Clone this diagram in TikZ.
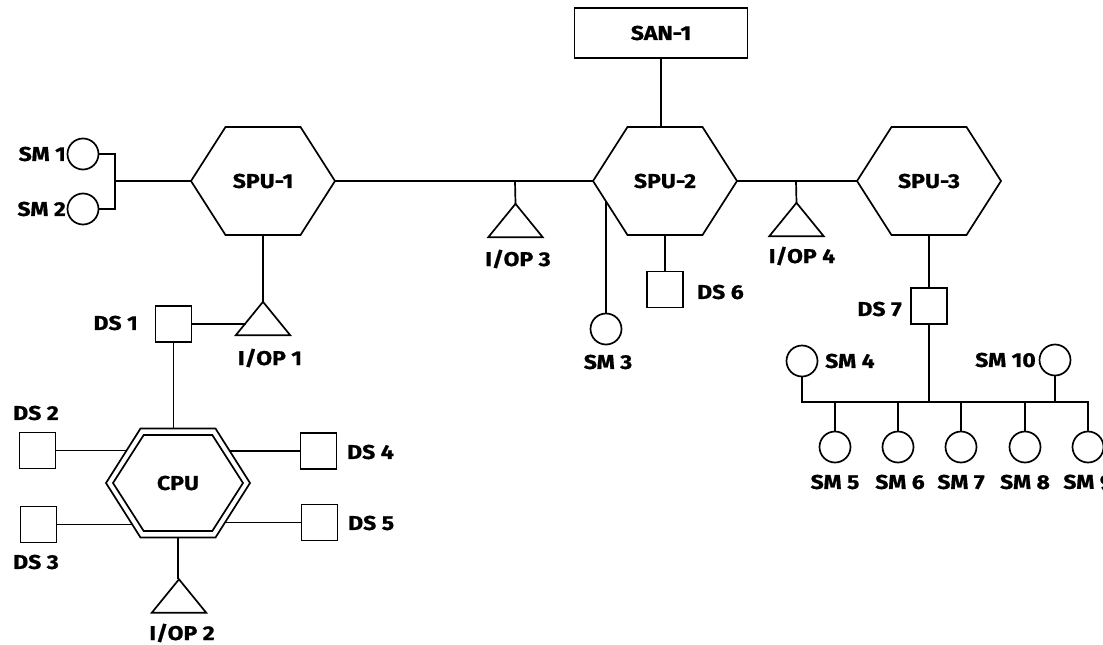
\documentclass[tikz,border=0pt]{standalone}
\usepackage{fontspec}
\setmainfont[FakeStretch=1.15,FakeBold=0.8]{Fira Sans}
\usetikzlibrary{calc}
\newcommand\hexshape[4]{%
  \draw[line width=1.7pt, line join=miter] ($(#1)+(-#2,0)$) -- ($(#1)+(-#4,-#3)$) -- ($(#1)+(#4,-#3)$) -- ($(#1)+(#2,0)$) -- ($(#1)+(#4,#3)$) -- ($(#1)+(-#4,#3)$) -- cycle;}
\newcommand\iotri[1]{%
  \draw[line width=1.7pt, line join=miter] (#1.north) -- (#1.south east) -- (#1.south west) -- cycle;}
\begin{document}
\begin{tikzpicture}[x=1pt,y=-1pt,
  conn/.style={line width=1.7pt},
  hexbox/.style={minimum width=144pt, minimum height=108pt, inner sep=0pt, font=\fontsize{20}{20}\selectfont\bfseries},
  store/.style={draw, line width=1.7pt, minimum width=36pt, minimum height=36pt, inner sep=0pt},
  mem/.style={draw, circle, line width=1.7pt, minimum size=31pt, inner sep=0pt},
  iobox/.style={minimum width=54pt, minimum height=33pt, inner sep=0pt},
  lab/.style={font=\fontsize{20}{20}\selectfont\bfseries, inner sep=0pt},
  sanbox/.style={draw, line width=1.7pt, minimum width=173pt, minimum height=50pt, inner sep=0pt, font=\fontsize{20}{20}\selectfont\bfseries}]
\useasboundingbox (0,0) rectangle (1103,645);
\fill[white] (0,0) rectangle (1103,645);

% processors
\node[hexbox] (spu1) at (263,181) {SPU-1};
\node[hexbox] (spu2) at (665,181) {SPU-2};
\node[hexbox] (spu3) at (929,181) {SPU-3};
\node[hexbox] (cpu) at (178,483) {CPU};
\hexshape{spu1}{72}{54}{37.5}
\hexshape{spu2}{72}{54}{37.5}
\hexshape{spu3}{72}{54}{37.5}
\hexshape{cpu}{72}{54.5}{37.5}
\hexshape{cpu}{65}{48}{34.3}

\node[sanbox] (san) at (661,33) {SAN-1};

% I/O processors
\node[iobox] (iop1) at (263,318.5) {};
\node[iobox] (iop2) at (179,596) {};
\node[iobox] (iop3) at (515.5,220.5) {};
\node[iobox] (iop4) at (796.5,219.5) {};
\iotri{iop1}\iotri{iop2}\iotri{iop3}\iotri{iop4}
\node[lab] (liop1) at (270,358) {I/OP 1};
\node[lab] (liop2) at (182,633) {I/OP 2};
\node[lab] (liop3) at (518,259) {I/OP 3};
\node[lab] (liop4) at (802,256) {I/OP 4};

% disk stores
\node[store] (ds1) at (173.5,324) {};
\node[store] (ds2) at (37.5,450.5) {};
\node[store] (ds3) at (38.5,524.5) {};
\node[store] (ds4) at (318.5,451) {};
\node[store] (ds5) at (319.5,522.5) {};
\node[store] (ds6) at (665,289.5) {};
\node[store] (ds7) at (929,306) {};
\node[lab, anchor=east] (lds1) at (138,323) {DS 1};
\node[lab] (lds2) at (36,413) {DS 2};
\node[lab] (lds3) at (36,562) {DS 3};
\node[lab, anchor=west] (lds4) at (347,452) {DS 4};
\node[lab, anchor=west] (lds5) at (348,523) {DS 5};
\node[lab, anchor=west] (lds6) at (697,292) {DS 6};
\node[lab, anchor=east] (lds7) at (902,309) {DS 7};

% memories
\node[mem] (sm1) at (83,154) {};
\node[mem] (sm2) at (83,209) {};
\node[mem] (sm3) at (606,329) {};
\node[mem] (sm4) at (802,361) {};
\node[mem] (sm10) at (1055,360) {};
\node[mem] (sm5) at (835,447) {};
\node[mem] (sm6) at (898,447) {};
\node[mem] (sm7) at (961,447) {};
\node[mem] (sm8) at (1025,447) {};
\node[mem] (sm9) at (1088,447) {};
\node[lab, anchor=east] (lsm1) at (66,154) {SM 1};
\node[lab, anchor=east] (lsm2) at (66,209) {SM 2};
\node[lab] (lsm3) at (608,362) {SM 3};
\node[lab, anchor=west] (lsm4) at (825,361) {SM 4};
\node[lab, anchor=east] (lsm10) at (1036,360) {SM 10};
\node[lab] (lsm5) at (835,482) {SM 5};
\node[lab] (lsm6) at (900,482) {SM 6};
\node[lab] (lsm7) at (961,482) {SM 7};
\node[lab] (lsm8) at (1025,482) {SM 8};
\node[lab] (lsm9) at (1088,482) {SM 9};

% junction coordinates
\coordinate (j1) at (115,181);
\coordinate (tap3) at (515,181);
\coordinate (tap4) at (796,181);
\coordinate (spu2ll) at (606,201);
\coordinate (iop1edge) at (246,324);
\coordinate (cpuA) at (127,450.5);
\coordinate (cpuB) at (132,524.5);
\coordinate (cpuC) at (229.5,451);
\coordinate (cpuD) at (225,522.5);
\coordinate (busL) at (802,402);
\coordinate (busR) at (1088,402);

% connectors
\draw[conn] (sm1.east) -| (j1) |- (sm2.east);
\draw[conn] (j1) -- (spu1.west);
\draw[conn] (spu1.east) -- (spu2.west);
\draw[conn] (spu2.east) -- (spu3.west);
\draw[conn] (tap3) -- (iop3.north);
\draw[conn] (tap4) -- (iop4.north);
\draw[conn] (spu1.south) -- (iop1.north);
\draw[conn] (ds1.east) -- (iop1edge);
\draw[conn] (ds1.south) -- (ds1.south |- cpu.north);
\draw[conn] (ds2) -- (cpuA);
\draw[conn] (ds3) -- (cpuB);
\draw[conn] (ds4) -- (cpuC);
\draw[conn] (ds5) -- (cpuD);
\draw[conn] (cpu.south) -- (iop2.north -| cpu.south);
\draw[conn] (san.south) -- (san.south |- spu2.north);
\draw[conn] (spu2ll) -- (sm3.north);
\draw[conn] (spu2.south) -- (ds6.north);
\draw[conn] (spu3.south) -- (ds7.north);
\draw[conn] (ds7.south) -- (ds7.south |- busL);
\draw[conn] (sm4.south) -- (busL) -- (busR) -- (sm9.north);
\draw[conn] (sm10.south) -- (sm10.south |- busL);
\draw[conn] (sm5.north) -- (sm5.north |- busL);
\draw[conn] (sm6.north) -- (sm6.north |- busL);
\draw[conn] (sm7.north) -- (sm7.north |- busL);
\draw[conn] (sm8.north) -- (sm8.north |- busL);
\end{tikzpicture}
\end{document}
